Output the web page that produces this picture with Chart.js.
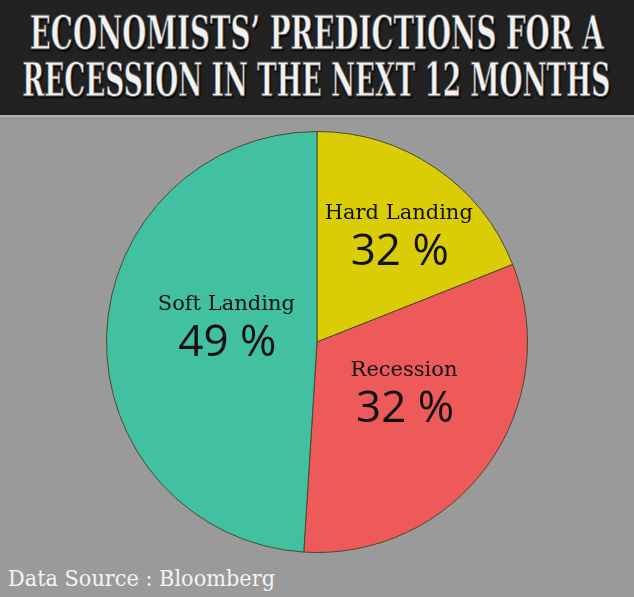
<!DOCTYPE html>
<html>
<head>
<meta charset="utf-8">
<script src="https://cdn.jsdelivr.net/npm/chart.js@4.4.1/dist/chart.umd.min.js"></script>
<style>
  html, body { margin: 0; padding: 0; }
  body { width: 634px; height: 597px; background: #9a9a9a; position: relative; overflow: hidden; }
  #head { position: absolute; left: 0; top: 0; width: 634px; height: 115px; background: #222222; border-bottom: 2px solid #b0b0b0; }
  .tline { position: absolute; left: 0; width: 634px; height: 46px; white-space: nowrap;
           font-family: "DejaVu Serif Condensed", "DejaVu Serif", serif; font-weight: bold; font-size: 47px; line-height: 46px;
           color: #f2f2f2; -webkit-text-stroke: 1px #555; text-shadow: 1px 1px 0 #000, -1px 1px 0 #000, 2px 2px 2px #000; }
  .tline span { position: absolute; top: 0; left: 0; display: inline-block; transform-origin: center center; }
  #t1 { top: 10px; }
  #t2 { top: 57px; }
  #wrap { position: absolute; left: 106px; top: 131px; width: 422px; height: 422px; }
  #foot { position: absolute; left: 8px; top: 566px; font-family: "DejaVu Serif", serif; font-size: 22px; color: #f4f4f4; white-space: nowrap; }
</style>
</head>
<body>
<div id="head">
  <div class="tline" id="t1"><span>ECONOMISTS’ PREDICTIONS FOR A</span></div>
  <div class="tline" id="t2"><span>RECESSION IN THE NEXT 12 MONTHS</span></div>
</div>
<div id="wrap"><canvas id="c"></canvas></div>
<div id="foot"><span>Data Source : Bloomberg</span></div>
<script>
// slices as drawn (clockwise from top)
var categories = ['Hard Landing', 'Recession', 'Soft Landing'];
var sliceValues = [19, 32, 49];
// percentages as printed on the graphic
var printedLabels = ['32 %', '32 %', '49 %'];
var sliceColors = ['#dacd06', '#ee5a5a', '#41c0a2'];

// center a title line on x=cx and squeeze it to width w
function fitCentered(el, cx, w) {
  var W = el.getBoundingClientRect().width;
  el.style.left = (cx - W / 2) + 'px';
  el.style.transform = 'scaleX(' + (w / W) + ')';
}
fitCentered(document.querySelector('#t1 span'), 317, 574);
fitCentered(document.querySelector('#t2 span'), 316, 588);

var fs = document.querySelector('#foot span');
fs.style.display = 'inline-block';
fs.style.transformOrigin = 'left center';
fs.style.transform = 'scaleX(' + (267 / fs.getBoundingClientRect().width) + ')';

// label placement inside each slice (fraction of radius, turn in degrees)
var labelRadius = [0.65, 0.47, 0.44];
var labelTurn = [2.5, -7.6, 10];

var sliceLabels = {
  id: 'sliceLabels',
  afterDatasetsDraw: function(chart) {
    var ctx = chart.ctx;
    var meta = chart.getDatasetMeta(0);
    meta.data.forEach(function(arc, i) {
      var p = arc.getProps(['x', 'y', 'startAngle', 'endAngle', 'outerRadius'], true);
      var mid = (p.startAngle + p.endAngle) / 2 + labelTurn[i] * Math.PI / 180;
      var r = p.outerRadius * labelRadius[i];
      var x = p.x + Math.cos(mid) * r;
      var y = p.y + Math.sin(mid) * r;
      ctx.save();
      ctx.fillStyle = '#111111';
      ctx.textAlign = 'center';
      ctx.textBaseline = 'middle';
      ctx.font = '21px "DejaVu Serif", serif';
      ctx.fillText(categories[i], x, y - 19);
      ctx.font = '44px "Open Sans", sans-serif';
      ctx.fillText(printedLabels[i], x + 1, y + 20);
      ctx.restore();
    });
  }
};

new Chart(document.getElementById('c'), {
  type: 'pie',
  data: {
    labels: categories,
    datasets: [{
      data: sliceValues,
      backgroundColor: sliceColors,
      borderColor: '#4a4a2a',
      borderWidth: 1
    }]
  },
  options: {
    responsive: true,
    maintainAspectRatio: false,
    animation: false,
    layout: { padding: 0 },
    plugins: {
      legend: { display: false },
      tooltip: { enabled: false }
    }
  },
  plugins: [sliceLabels]
});
</script>
</body>
</html>
